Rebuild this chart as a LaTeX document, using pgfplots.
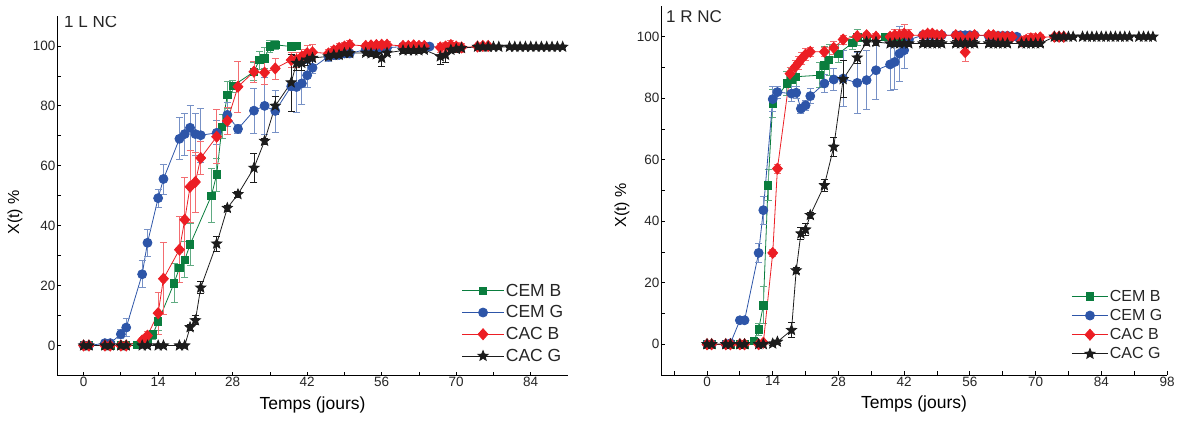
\documentclass[border=0pt]{standalone}
\usepackage{fontspec}
\setmainfont{Liberation Sans}
\usepackage{pgfplots}
\pgfplotsset{compat=1.18}
\usepackage{pgfplotstable}
\usetikzlibrary{plotmarks}

\definecolor{cgreen}{RGB}{10,125,62}
\definecolor{cblue}{RGB}{45,85,168}
\definecolor{cred}{RGB}{236,30,36}
\definecolor{cblack}{RGB}{28,28,28}

\pgfdeclareplotmark{fstar}{%
  \pgfpathmoveto{\pgfpointpolar{90}{\pgfplotmarksize}}%
  \pgfpathlineto{\pgfpointpolar{126}{0.44\pgfplotmarksize}}%
  \pgfpathlineto{\pgfpointpolar{162}{\pgfplotmarksize}}%
  \pgfpathlineto{\pgfpointpolar{198}{0.44\pgfplotmarksize}}%
  \pgfpathlineto{\pgfpointpolar{234}{\pgfplotmarksize}}%
  \pgfpathlineto{\pgfpointpolar{270}{0.44\pgfplotmarksize}}%
  \pgfpathlineto{\pgfpointpolar{306}{\pgfplotmarksize}}%
  \pgfpathlineto{\pgfpointpolar{342}{0.44\pgfplotmarksize}}%
  \pgfpathlineto{\pgfpointpolar{18}{\pgfplotmarksize}}%
  \pgfpathlineto{\pgfpointpolar{54}{0.44\pgfplotmarksize}}%
  \pgfpathclose
  \pgfusepathqfillstroke
}

% ---------------- left panel (1 L NC) ----------------
\pgfplotstableread{
x y e
0 0 0.3
1 0 0.3
4 0 0.3
5 0 0.3
7 0 0.3
8 0 0.3
10 0.3 0.5
11 0.6 0.5
12 1.9 1
13 3.7 1.5
14 8 3
17 20.8 6.5
18 26 5
19 28.6 6
20 33.7 7
24 50 9
25 57.1 5.5
26 73 4
27 83.6 4.5
28 86.6 2
32 91.4 3
33 95.3 3
34 95.9 3.5
35 99.8 2
36 100.4 1.5
39 99.8 0.8
40 100 0.5
}\LB
\pgfplotstableread{
x y e
0 0 0.5
1 0 0.5
4 0.8 0.5
5 0.8 0.5
7 3.8 1.5
8 6 3
11 23.8 4.5
12 34.3 4.5
14 49.2 3
15 55.6 5
18 69 7
19 70.6 7
20 72.7 7.5
21 70.6 7
22 70.2 9
25 71 4
27 77 4
29 72.3 1.5
32 78.4 7.5
34 80 9.5
36 78.3 7
39 86.5 8.5
40 86.3 8.5
41 87.5 7
42 90.2 4
43 92.7 2
46 96.5 1.5
47 97 1.5
48 97 1
49 97.5 1
50 97.5 1
53 98.8 1
54 99 1
55 99.2 1
56 99.3 1
57 99.4 1
60 99.8 0.5
61 99.8 0.5
62 99.8 0.5
63 99.9 0.5
64 99.9 0.5
65 99.8 0.5
}\LG
\pgfplotstableread{
x y e
0 0 0.5
1 0 0.5
4 0 0.5
5 0 0.5
7 0 0.5
8 0 0.5
11 1.7 1
12 3.3 1.5
14 10.8 7
15 22.3 12
18 32 11
19 42 14
20 53 12
21 54.6 10
22 62.6 5.5
25 69.7 9
27 75 4.5
29 86.4 8.5
32 91.4 3.5
34 91.1 4
36 92.5 3.5
39 95.3 2.5
40 95.4 2.5
41 96.5 2.5
42 97.6 2.5
43 97.9 2.5
46 97.5 1.5
47 98.5 1.5
48 99.3 1.5
49 99.8 1.5
50 100.4 1.5
53 100 1
54 100.2 1
55 100.3 1
56 100.4 1
57 100.4 1
60 100 1
61 100 1
62 100.2 1
63 100 1
64 100 1
67 99.5 1.5
68 99.8 1.5
69 100.3 1.5
70 99.8 1.5
71 99.5 1.5
74 99.8 0.5
75 100 0.5
76 100 0.5
}\LR
\pgfplotstableread{
x y e
0 0 0.2
1 0 0.2
4 0 0.2
5 0 0.2
7 0 0.2
8 0 0.2
11 0 0.2
12 0 0.2
14 0 0.2
15 0 0.2
18 0 0.2
19 0 0.2
20 6.1 1
21 8.4 1.5
22 19.3 2
25 34 2.5
27 45.9 1
29 50.5 1
32 59.3 5
34 68.3 1
36 80 3
39 87.8 9.5
40 94.3 2.5
41 94.3 2.5
42 95.4 2
43 96 2
46 96.5 1
47 97 1
48 97 1
49 97.6 1
50 97.6 1
53 97.7 1
54 97.5 1
55 97.2 1
56 96 2.8
57 97.7 1
60 98.5 1
61 98.5 1
62 98.5 1
63 98.5 1
64 98.7 1
67 96.5 2.5
68 97 2.5
69 98.7 1
70 99 1
71 99.3 1
74 99.7 0.4
75 99.7 0.4
76 99.7 0.4
77 99.7 0.4
78 99.7 0.4
80 99.7 0.3
81 99.7 0.3
82 99.7 0.3
83 99.7 0.3
84 99.7 0.3
85 99.7 0.3
86 99.7 0.3
87 99.7 0.3
88 99.7 0.3
89 99.7 0.3
90 99.7 0.3
}\LK

% ---------------- right panel (1 R NC) ----------------
\pgfplotstableread{
x y e
0 0 0.3
1 0 0.3
4 0 0.3
5 0 0.3
7 0 0.3
8 0 0.3
10 1 0.8
11 4.8 2
12 12.7 6
13 51.7 5
14 78.3 4.5
17 84.8 4
18 86.1 3.5
19 87 3
24 87.5 4
25 90.7 6
26 92.4 5
28 94.5 3
31 98 2
32 99.8 2.5
34 99.7 1.5
38 100 1
39 100 1
40 100 1
41 100 1
42 100 1
}\RB
\pgfplotstableread{
x y e
0 0 0.3
1 0 0.3
4 0 0.3
5 0.3 0.3
7 7.8 0.5
8 7.8 0.5
11 29.7 3
12 43.6 4.5
14 79.7 4
15 82 2
18 81.5 2.5
19 81.8 2
20 76.6 1.5
21 77.7 1.5
22 80.7 2.5
25 84.8 3
27 86.1 3.5
29 86.4 9
32 85 10
34 85.9 9.5
36 89.1 9.5
39 91 8.5
40 91.8 9
41 94.5 9
42 95.6 6
43 99 2
46 100.5 1
47 100.5 1
48 100.5 1
49 100.5 1
50 100.5 1
53 100.5 1
54 100.5 1
55 100.5 1
56 100.5 1
57 100.5 1
60 100.3 1
61 100.3 1
62 100.3 1
63 100.3 1
64 100.3 1
65 100 1
66 100 1
}\RG
\pgfplotstableread{
x y e
0 0 0.5
1 0 0.5
4 0 0.5
5 0 0.5
7 0 0.5
8 0 0.5
11 0 0.5
12 0.5 0.5
14 29.7 1
15 57.1 1.5
17.7 88 2
18.8 90.2 2
19.5 91.5 2
20.2 92.9 2
21 94.2 2
22 95.1 1.5
25 95.1 1.5
27 96.4 2
29 99.1 1.5
32 100.2 1
34 100.5 1
36 100 1
39 100 1
40 100.5 2
41 100.5 2
42 101 3
43 100.5 2
46 100.5 1
47 101 1
48 101 1
49 100.5 1
50 100.5 1
53 100.5 1
54 100 1
55 95 3
56 100 1
57 100.5 1
60 100.5 1
61 100.5 1
62 100 1
63 100 1
64 100 1
65 100 1
67 98.5 1.5
68 99 1.5
69 99.5 1.5
70 99.5 1
71 99.8 1
74 100 0.5
75 100 0.5
76 100 0.5
}\RR
\pgfplotstableread{
x y e
0 0 0.2
1 0 0.2
4 0 0.2
5 0 0.2
7 0 0.2
8 0 0.2
11 0 0.2
12 0 0.2
14 0.2 0.5
15 0.8 0.5
18 4.6 2.5
19 24 1
20 36 2
21 37.3 2
22 42 1
25 51.7 2
27 64.2 3
29 86.2 6
32 93.2 2
34 98.3 1
36 98.3 1
39 97.8 1
40 97.8 1
41 97.8 1
42 97.8 1
43 97.8 1
46 97.8 1
47 97.8 1
48 97.8 1
49 97.8 1
50 97.8 1
53 97.8 1
54 97.8 1
55 97.8 1
56 97.8 1
57 97.8 1
60 97.8 1
61 97.8 1
62 97.8 1
63 97.8 1
64 97.8 1
67 97.8 1
68 97.8 1
69 97.8 1
70 97.8 1
71 97.8 1
74 100 0.3
75 100 0.3
76 100 0.3
77 100 0.3
78 100 0.3
80 100 0.3
81 100 0.3
82 100 0.3
83 100 0.3
84 100 0.3
85 100 0.3
86 100 0.3
87 100 0.3
88 100 0.3
89 100 0.3
90 100 0.3
92 100 0.3
93 100 0.3
94 100 0.3
95 100 0.3
}\RK

\pgfplotsset{
  panel/.style={
    scale only axis,
    axis lines*=left,
    axis line style={line width=0.9pt, black},
    tick align=inside,
    major tick length=4pt,
    minor tick length=4pt,
    tick style={line width=0.8pt, black},
    ymin=-10, ymax=110,
    ytick={0,20,...,100},
    minor ytick={10,30,50,70,90},
    /pgf/number format/assume math mode=true,
    tick label style={font=\fontsize{13.5}{16}\selectfont, inner sep=1.5pt, text=black!85},
    xlabel={Temps (jours)},
    ylabel={X(t) \%},
    xlabel style={font=\fontsize{17.5}{20}\selectfont, at={(axis description cs:0.5,0)}, anchor=center, yshift=-29pt},
    legend cell align=left,
  },
  sB/.style={cgreen, line width=0.8pt, mark=square*, mark size=3.7pt,
    error bars/.cd, y dir=both, y explicit,
    error bar style={cgreen!65, line width=0.8pt},
    error mark options={rotate=90, mark size=3.5pt, cgreen!65, line width=0.8pt}},
  sG/.style={cblue, line width=0.8pt, mark=*, mark size=4.5pt,
    error bars/.cd, y dir=both, y explicit,
    error bar style={cblue!65, line width=0.8pt},
    error mark options={rotate=90, mark size=3.5pt, cblue!65, line width=0.8pt}},
  sR/.style={cred, line width=0.8pt, mark=diamond*, mark size=5.5pt, mark options={xscale=1.2},
    error bars/.cd, y dir=both, y explicit,
    error bar style={cred!65, line width=0.8pt},
    error mark options={rotate=90, mark size=3.5pt, cred!65, line width=0.8pt}},
  sK/.style={cblack, line width=0.8pt, mark=fstar, mark size=5.3pt,
    error bars/.cd, y dir=both, y explicit,
    error bar style={cblack, line width=0.8pt},
    error mark options={rotate=90, mark size=3.5pt, cblack, line width=0.8pt}},
}

\begin{document}
\begin{tikzpicture}
\useasboundingbox (0pt,0pt) rectangle (1182pt,421pt);

% ---------- left ----------
\begin{axis}[panel,
  at={(57pt,45.5pt)}, anchor=south west,
  width=511pt, height=359.5pt,
  xmin=-5, xmax=91,
  xtick={0,14,...,84},
  minor xtick={7,21,35,49,63,77},
  ylabel style={font=\fontsize{16}{19}\selectfont, at={(axis description cs:-0.082,0.454)}, anchor=center},
  legend style={at={(axis description cs:1.0,0.025)}, anchor=south east, draw=none, fill=none,
    font=\fontsize{17.5}{20}\selectfont, row sep=5pt,
    nodes={inner sep=1.5pt, text=black!85}},
  legend image code/.code={\draw[mark repeat=2,mark phase=2,#1] plot coordinates {(0pt,0pt)(21pt,0pt)(42pt,0pt)};},
]
\addplot[sB] table[x=x,y=y,y error=e]{\LB};
\addplot[sG] table[x=x,y=y,y error=e]{\LG};
\addplot[sR] table[x=x,y=y,y error=e]{\LR};
\addplot[sK] table[x=x,y=y,y error=e]{\LK};
\legend{CEM B, CEM G, CAC B, CAC G}
\node[anchor=north west, inner sep=0pt, font=\fontsize{17}{20}\selectfont, text=black!85] at ([xshift=7pt,yshift=1pt]axis description cs:0,1) {1 L NC};
\end{axis}

% ---------- right ----------
\begin{axis}[panel,
  at={(661pt,46pt)}, anchor=south west,
  width=506pt, height=369pt,
  xmin=-9.8, xmax=98,
  xtick={0,14,...,98},
  minor xtick={-7,7,21,35,49,63,77,91},
  ylabel style={font=\fontsize{16}{19}\selectfont, at={(axis description cs:-0.077,0.46)}, anchor=center},
  legend style={at={(axis description cs:1.0,0.03)}, anchor=south east, draw=none, fill=none,
    font=\fontsize{16}{19}\selectfont, row sep=3.5pt,
    nodes={inner sep=1.5pt, text=black!85}},
  legend image code/.code={\draw[mark repeat=2,mark phase=2,#1] plot coordinates {(0pt,0pt)(18pt,0pt)(36pt,0pt)};},
]
\addplot[sB] table[x=x,y=y,y error=e]{\RB};
\addplot[sG] table[x=x,y=y,y error=e]{\RG};
\addplot[sR] table[x=x,y=y,y error=e]{\RR};
\addplot[sK] table[x=x,y=y,y error=e]{\RK};
\legend{CEM B, CEM G, CAC B, CAC G}
\node[anchor=north west, inner sep=0pt, font=\fontsize{17}{20}\selectfont, text=black!85] at ([xshift=5pt,yshift=-4pt]axis description cs:0,1) {1 R NC};
\end{axis}
\end{tikzpicture}
\end{document}
